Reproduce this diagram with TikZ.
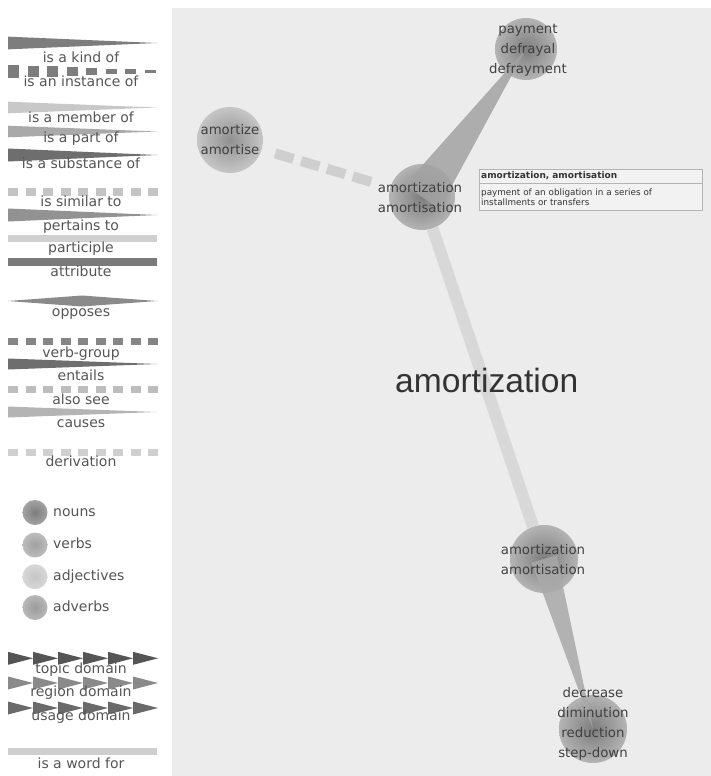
\documentclass[tikz,border=0pt]{standalone}
\usepackage{fontspec}
\setmainfont{DejaVu Sans}
\newfontfamily\titlefont{Liberation Sans}
\usetikzlibrary{calc}

\definecolor{panel}{HTML}{ECECEC}
\definecolor{leggray}{HTML}{555555}
\definecolor{lblgray}{HTML}{404040}
\definecolor{kindc}{HTML}{7D7D7D}
\definecolor{memberc}{HTML}{C8C8C8}
\definecolor{partc}{HTML}{A9A9A9}
\definecolor{substc}{HTML}{6E6E6E}
\definecolor{simc}{HTML}{C4C4C4}
\definecolor{pertc}{HTML}{929292}
\definecolor{partic}{HTML}{D0D0D0}
\definecolor{attrc}{HTML}{7A7A7A}
\definecolor{oppc}{HTML}{8A8A8A}
\definecolor{vgrpc}{HTML}{858585}
\definecolor{entc}{HTML}{6E6E6E}
\definecolor{alsoc}{HTML}{BDBDBD}
\definecolor{causc}{HTML}{B4B4B4}
\definecolor{derivc}{HTML}{CFCFCF}
\definecolor{wordc}{HTML}{D6D6D6}
\definecolor{topicc}{HTML}{555555}
\definecolor{regionc}{HTML}{8A8A8A}
\definecolor{usagec}{HTML}{6A6A6A}
\definecolor{nounc}{HTML}{7C7C7C}
\definecolor{verbc}{HTML}{A0A0A0}
\definecolor{adjc}{HTML}{C6C6C6}
\definecolor{advc}{HTML}{9A9A9A}
\definecolor{hyperc}{HTML}{A2A2A2}
\definecolor{tipline}{HTML}{B4B4B4}
\definecolor{tipfill}{HTML}{F2F2F2}

\begin{document}
\begin{tikzpicture}[x=1pt,y=-1pt,
  synset/.style={circle,inner sep=0pt,minimum size=#1},
  lbl/.style={align=center,text=lblgray,inner sep=0pt,
    font=\fontsize{13.3}{20}\selectfont},
  legtxt/.style={anchor=base,inner sep=0pt,text=leggray,
    font=\fontsize{14}{16}\selectfont},
  tipbox/.style={draw=tipline,fill=tipfill,anchor=north west,
    inner sep=2pt,align=left,text width=219pt,text=black!80}
]

\useasboundingbox (0,0) rectangle (711,776);
\fill[white] (0,0) rectangle (711,776);

%--------------------
% 凡例
%--------------------
% 先細りの線
\foreach \y/\h/\c in {43/12.7/kindc, 107.5/11.6/memberc,
    131.5/11.6/partc, 155/13/substc, 215/13/pertc,
    364/11/entc, 412/11/causc}
  \fill[\c] (8,\y-\h/2) -- (157,\y) -- (8,\y+\h/2) -- cycle;

% is an instance of
\foreach \i in {0,...,7}
  \fill[kindc] (8+19.5*\i,71.5-6.5+0.75*\i) rectangle ++(11,13-1.5*\i);

% 破線
\foreach \y/\c in {192/simc, 341.7/vgrpc, 389.3/alsoc, 452.7/derivc}
  \draw[\c,line width=7.3pt,dash pattern=on 10pt off 7.5pt]
    (8,\y) -- (158,\y);

% 一様な線
\foreach \y/\c in {238.7/partic, 262/attrc, 751.7/derivc}
  \fill[\c] (8,\y-3.7) rectangle (157,\y+3.7);

% opposes
\fill[oppc] (8,301) -- (82,295.5) -- (157,301) -- (82,306.5) -- cycle;

% 領域
\foreach \y/\c in {658.3/topicc, 683/regionc, 708/usagec}
  \foreach \i in {0,...,5}
    \fill[\c] (8+25*\i,\y-6.5) -- ++(25,6.5) -- ++(-25,6.5) -- cycle;

% 品詞の丸
\foreach \y/\c in {512.5/nounc, 545/verbc, 576.7/adjc, 607.5/advc}
  \shade[inner color=\c, outer color=\c!70!white]
    (35,\y) circle (12.5pt);

% 凡例の文字
\foreach \y/\t [count=\i] in {63/is a kind of, 86.7/is an instance of,
    122.7/is a member of, 142.5/is a part of, 168/is a substance of,
    206.7/is similar to, 230/pertains to, 252.7/participle,
    276/attribute, 316/opposes, 357/verb-group, 380/entails,
    404/also see, 427.7/causes, 466.7/derivation,
    673/topic domain, 696.7/region domain, 720.7/usage domain,
    768/is a word for}
  \node[legtxt] (leg\i) at (81,\y) {\t};

\foreach \y/\t [count=\i] in {516/nouns, 548/verbs, 580/adjectives,
    611.7/adverbs}
  \node[legtxt,anchor=base west] (pos\i) at (53,\y) {\t};

%--------------------
% グラフ
%--------------------
\fill[panel] (172,8) rectangle (711,776);

% 語義の丸
\node[synset=62pt,inner color=nounc,outer color=nounc!50!panel]
  (pay) at (526,49) {};
\node[synset=66pt,inner color=verbc!90!black,outer color=verbc!50!panel]
  (amz) at (230,140) {};
\node[synset=66pt,inner color=nounc,outer color=nounc!50!panel]
  (cen) at (422,197) {};
\node[synset=68pt,inner color=nounc,outer color=nounc!50!panel]
  (low) at (544,559) {};
\node[synset=68pt,inner color=nounc,outer color=nounc!50!panel]
  (dec) at (593,729) {};

% 関係
\fill[hyperc,opacity=0.85]
  ($(cen.center)!21pt!90:(pay.center)$)
  -- ($(cen.center)!21pt!-90:(pay.center)$)
  -- (pay.center) -- cycle;

\draw[derivc,line width=10pt,dash pattern=on 19pt off 8pt,
  shorten <=14pt,shorten >=17pt]
  (amz) -- (cen);

\draw[wordc,line width=12pt,opacity=0.9]
  (cen) -- (low);

\fill[partc,opacity=0.85]
  ($(low.center)!13pt!90:(dec.center)$)
  -- ($(low.center)!13pt!-90:(dec.center)$)
  -- (dec.center) -- cycle;

% 語
\node[lbl] (paylbl) at (528,50) {payment\\defrayal\\defrayment};
\node[lbl] (amzlbl) at (230,140) {amortize\\amortise};
\node[lbl] (cenlbl) at (420,198) {amortization\\amortisation};
\node[lbl] (lowlbl) at (543,560) {amortization\\amortisation};
\node[lbl] (declbl) at (593,723.5)
  {decrease\\diminution\\reduction\\step-down};

% 見出し
\node[anchor=base west,inner sep=0pt,text=black!80,
  font=\titlefont\fontsize{33.6}{36}\selectfont]
  (title) at (395,392) {amortization};

% 説明
\node[tipbox,minimum height=14pt,font=\bfseries\fontsize{9}{10}\selectfont]
  (tiphead) at (479,169) {amortization, amortisation};
\node[tipbox,minimum height=27pt,font=\fontsize{8.8}{10.5}\selectfont]
  (tipbody) at (tiphead.south west)
  {payment of an obligation in a series of\\installments or transfers};

\end{tikzpicture}
\end{document}
